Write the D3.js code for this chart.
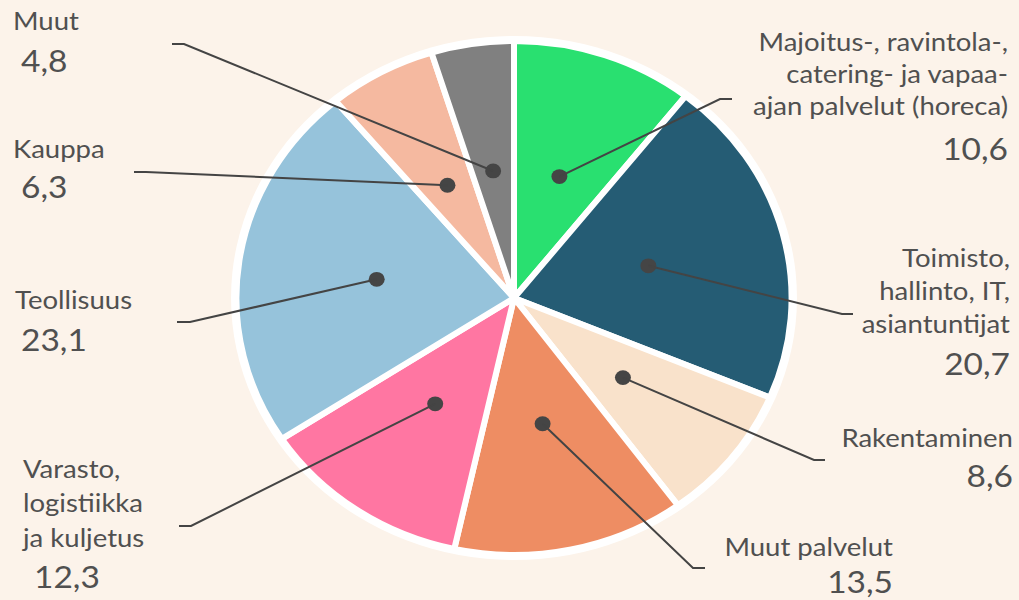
<!DOCTYPE html>
<html>
<head>
<meta charset="utf-8">
<script src="https://cdn.jsdelivr.net/npm/d3@7"></script>
<style>
body { margin: 0; background: #fcf3ea; }
svg { display: block; }
text { font-family: Lato, "Open Sans", sans-serif; fill: #505050; }
</style>
</head>
<body>
<div id="chart"></div>
<script>
// Data, clockwise from 12 o'clock
var categories = ["horeca", "toimisto", "rakentaminen", "muutPalvelut", "varasto", "teollisuus", "kauppa", "muut"];
var values = [10.6, 20.7, 8.6, 13.5, 12.3, 23.1, 6.3, 4.8];
var labelLines = [
	["Majoitus-, ravintola-,", "catering- ja vapaa-", "ajan palvelut (horeca)"],
	["Toimisto,", "hallinto, IT,", "asiantuntijat"],
	["Rakentaminen"],
	["Muut palvelut"],
	["Varasto,", "logistiikka", "ja kuljetus"],
	["Teollisuus"],
	["Kauppa"],
	["Muut"]
];
var colors = ["#29e070", "#255c74", "#f9e2cb", "#ee8d63", "#ff76a2", "#96c3db", "#f5b9a0", "#808080"];

var width = 1019, height = 600;
var stretch = 1.08;        // the picture is a bit wider than tall
var cx = 514, cy = 298, radius = 257;

// where every label and its leader line go (pixels of the final picture)
var labelSpots = [
	{elbow: [720, 99],  end: [732, 99],  anchor: "end",   x: 1008, y: [51, 83, 115],   nx: 1008, ny: 160},
	{elbow: [842, 314], end: [853, 314], anchor: "end",   x: 1010, y: [267, 300, 333], nx: 1010, ny: 375},
	{elbow: [814, 460], end: [825, 460], anchor: "end",   x: 1013, y: [447],           nx: 1013, ny: 487},
	{elbow: [693, 568], end: [705, 568], anchor: "end",   x: 893,  y: [556],           nx: 893,  ny: 593},
	{elbow: [191, 526], end: [179, 526], anchor: "start", x: 23,   y: [478, 512, 547], nx: 34,   ny: 588},
	{elbow: [190, 322], end: [177, 322], anchor: "start", x: 15,   y: [309],           nx: 21,   ny: 351},
	{elbow: [146, 172], end: [134, 172], anchor: "start", x: 13,   y: [158],           nx: 21,   ny: 198},
	{elbow: [184, 44],  end: [172, 44],  anchor: "start", x: 13,   y: [30],            nx: 21,   ny: 72}
];

var fi = d3.formatLocale({decimal: ",", thousands: "\u00a0", grouping: [3], currency: ["", " €"]});
var fmt = fi.format(".1f");

var svg = d3.select("#chart").append("svg")
	.attr("width", width)
	.attr("height", height);

svg.append("rect")
	.attr("width", width)
	.attr("height", height)
	.attr("fill", "#fcf3ea");

var root = svg.append("g").attr("transform", "scale(" + stretch + ",1)");

var pieG = root.append("g")
	.attr("transform", "translate(" + (cx / stretch) + "," + cy + ")");

var pie = d3.pie().sort(null).value(function(d) { return d; });
var arc = d3.arc().innerRadius(0).outerRadius(radius);
var arcs = pie(values);

// white rim round the whole pie
pieG.append("circle")
	.attr("r", radius + 5)
	.attr("fill", "#ffffff");

pieG.selectAll("path.slice")
	.data(arcs)
	.enter().append("path")
	.attr("class", "slice")
	.attr("d", arc)
	.attr("fill", function(d, i) { return colors[i]; })
	.attr("stroke", "#ffffff")
	.attr("stroke-width", 6)
	.attr("stroke-linejoin", "round")
	.attr("vector-effect", "non-scaling-stroke");

// leader lines: dot -> elbow -> short flat end
var line = d3.line();
root.selectAll("path.leader")
	.data(arcs)
	.enter().append("path")
	.attr("class", "leader")
	.attr("d", function(d, i) {
		var c = arc.centroid(d);
		var s = labelSpots[i];
		return line([
			[cx / stretch + c[0], cy + c[1]],
			[s.elbow[0] / stretch, s.elbow[1]],
			[s.end[0] / stretch, s.end[1]]
		]);
	})
	.attr("fill", "none")
	.attr("stroke", "#444444")
	.attr("stroke-width", 2)
	.attr("vector-effect", "non-scaling-stroke");

pieG.selectAll("circle.dot")
	.data(arcs)
	.enter().append("circle")
	.attr("class", "dot")
	.attr("cx", function(d) { return arc.centroid(d)[0]; })
	.attr("cy", function(d) { return arc.centroid(d)[1]; })
	.attr("r", 7.4)
	.attr("fill", "#454545");

// labels
for (var i = 0; i < values.length; i++) {
	var s = labelSpots[i];
	for (var k = 0; k < labelLines[i].length; k++) {
		root.append("text")
			.attr("x", s.x / stretch)
			.attr("y", s.y[k])
			.attr("text-anchor", s.anchor)
			.attr("font-size", 25.5)
			.text(labelLines[i][k]);
	}
	root.append("text")
		.attr("x", s.nx / stretch)
		.attr("y", s.ny)
		.attr("text-anchor", s.anchor)
		.attr("font-size", 31)
		.text(fmt(values[i]));
}
</script>
</body>
</html>
